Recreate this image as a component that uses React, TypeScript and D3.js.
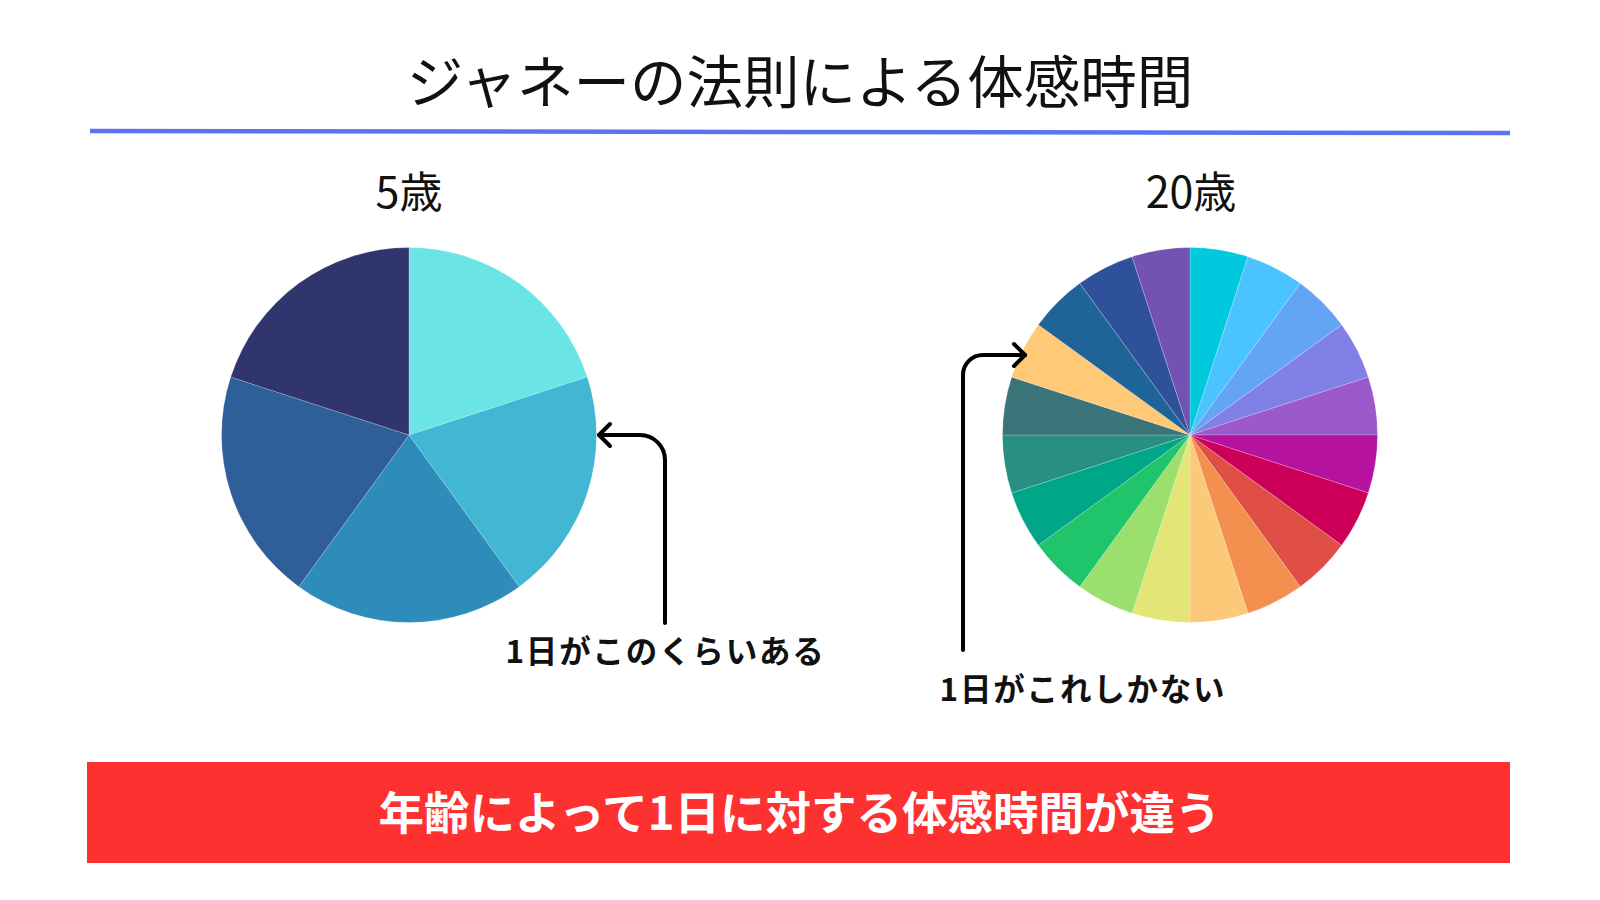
import React from "react";
import * as d3 from "d3";

// ---- data ----
const TITLE = "ジャネーの法則による体感時間";
const AGE_LABELS = ["5歳", "20歳"];
const DAYS_AGE5 = [1, 1, 1, 1, 1];
const DAYS_AGE20 = [1, 1, 1, 1, 1, 1, 1, 1, 1, 1, 1, 1, 1, 1, 1, 1, 1, 1, 1, 1];
const COLORS_AGE5 = ["#6BE4E6", "#42B7D3", "#2E8CBA", "#2E5F98", "#31356E"];
const COLORS_AGE20 = [
  "#00C9DD", "#4AC3FF", "#63A4F5", "#8080E6", "#9B59C9",
  "#B512A0", "#CC0058", "#E04F45", "#F39050", "#FCC978",
  "#E3E677", "#9BE06E", "#1FC46B", "#00A688", "#288F83",
  "#3A7478", "#FFC977", "#1F6496", "#2F519C", "#7352B3",
];
const NOTES = ["1日がこのくらいある", "1日がこれしかない"];
const BANNER = "年齢によって1日に対する体感時間が違う";

const FONT = "'Noto Sans CJK JP', 'Noto Sans', sans-serif";

function Pie({ values, colors, cx, cy, r }: { values: number[]; colors: string[]; cx: number; cy: number; r: number }) {
  const arcs = d3.pie<number>().sort(null).value((d) => d)(values);
  const arc = d3.arc<d3.PieArcDatum<number>>().innerRadius(0).outerRadius(r);
  return (
    <g transform={`translate(${cx},${cy})`}>
      {arcs.map((a, i) => (
        <path key={i} d={arc(a) || ""} fill={colors[i % colors.length]} stroke="#ffffff" strokeOpacity={0.35} strokeWidth={0.6} />
      ))}
    </g>
  );
}

export default function App() {
  const W = 1600, H = 900;
  const R = 187.5;
  const left = { cx: 409, cy: 435 };
  const right = { cx: 1190, cy: 435 };
  return (
    <svg width={W} height={H} viewBox={`0 0 ${W} ${H}`} style={{ position: "absolute", left: 0, top: 0, background: "#ffffff" }}>
      <rect x={0} y={0} width={W} height={H} fill="#ffffff" />
      <text x={800} y={103} textAnchor="middle" fontFamily={FONT} fontSize={56.5} fontWeight={400} fill="#111">{TITLE}</text>
      <line x1={90} y1={131} x2={1510} y2={133} stroke="#5A74EE" strokeWidth={4.5} />

      <text x={left.cx} y={208} textAnchor="middle" fontFamily={FONT} fontSize={43} fill="#111">{AGE_LABELS[0]}</text>
      <text x={right.cx + 1} y={208} textAnchor="middle" fontFamily={FONT} fontSize={43} fill="#111">{AGE_LABELS[1]}</text>

      <Pie values={DAYS_AGE5} colors={COLORS_AGE5} cx={left.cx} cy={left.cy} r={R} />
      <Pie values={DAYS_AGE20} colors={COLORS_AGE20} cx={right.cx} cy={right.cy} r={R} />

      {/* annotation arrows */}
      <g fill="none" stroke="#000" strokeWidth={4} strokeLinecap="round" strokeLinejoin="round">
        <path d="M665,623 L665,460 A25,25 0 0 0 640,435 L599,435" />
        <path d="M610,424 L599,435 L610,446" />
        <path d="M963,650 L963,375 A20,20 0 0 1 983,355 L1025,355" />
        <path d="M1014,344 L1025,355 L1014,366" />
      </g>
      <text x={665.5} y={663} textAnchor="middle" fontFamily={FONT} fontSize={31.5} fontWeight={700} letterSpacing={1.8} fill="#111">{NOTES[0]}</text>
      <text x={1083} y={701} textAnchor="middle" fontFamily={FONT} fontSize={31.5} fontWeight={700} letterSpacing={1.8} fill="#111">{NOTES[1]}</text>

      <rect x={87} y={762} width={1423} height={101} fill="#FE3131" />
      <text x={799.5} y={830} textAnchor="middle" fontFamily={FONT} fontSize={45.5} fontWeight={700} fill="#ffffff">{BANNER}</text>
    </svg>
  );
}
